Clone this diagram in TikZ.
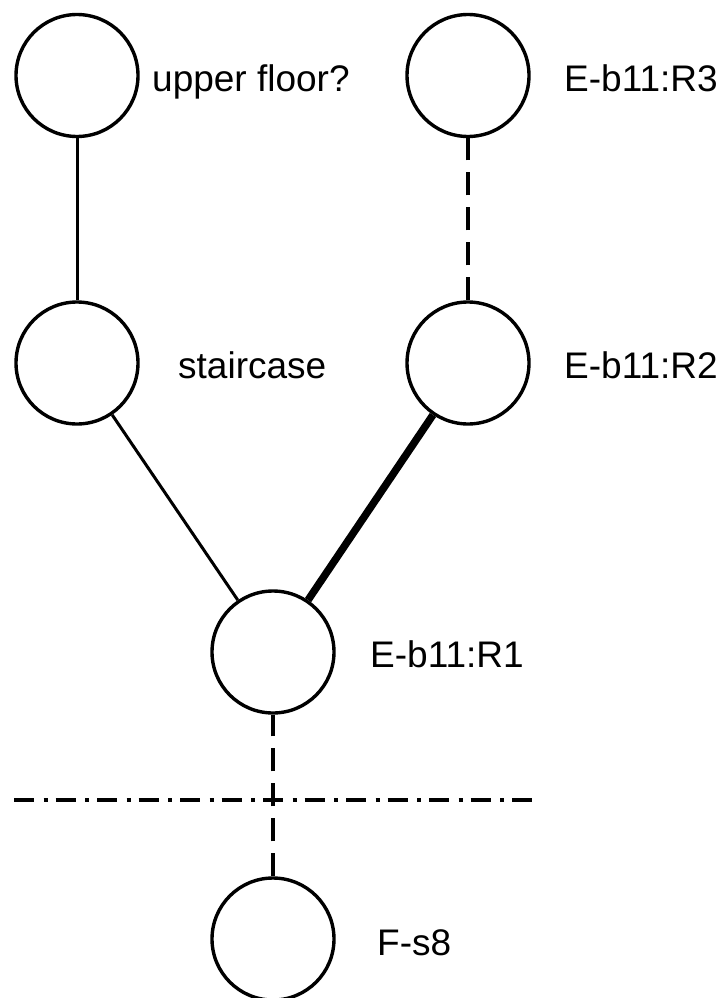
\documentclass[tikz,border=0pt]{standalone}
\usepackage{fontspec}
\setmainfont{Liberation Sans}
\usetikzlibrary{positioning}
\definecolor{rgInk}{HTML}{000000}
\tikzset{
  rg room/.style={circle, draw=rgInk, line width=3.4pt, minimum size=122pt, inner sep=0pt},
  rg label/.style={anchor=base west, inner sep=0pt, font=\fontsize{37}{44}\selectfont, text=rgInk},
  rg door/.style={draw=rgInk, line width=3pt},
  rg wide door/.style={draw=rgInk, line width=7.5pt},
  rg open/.style={
    draw=rgInk,
    line width=3.2pt,
    dash pattern=on 23pt off 12pt
  },
  rg level/.style={
    draw=rgInk,
    line width=3.8pt,
    dash pattern=on 20pt off 9.5pt on 4pt off 8pt
  }
}
\begin{document}
\begin{tikzpicture}[x=1pt,y=-1pt]
  \useasboundingbox (0,0) rectangle (721,998);
  \node[rg room] (upper) at (77,75.5) {};
  \node[rg room] (r3) at (468,75.5) {};
  \node[rg room] (stair) at (77,363) {};
  \node[rg room] (r2) at (468,363) {};
  \node[rg room] (r1) at (273,652) {};
  \node[rg room] (fs8) at (273,939) {};
  \coordinate (levelW) at (14,800);
  \coordinate (levelE) at (534,800);

  \node[rg label] (upperLabel) at (152,91) {upper floor?};
  \node[rg label] (r3Label) at (564,91) {E-b11:R3};
  \node[rg label] (stairLabel) at (178,378) {staircase};
  \node[rg label] (r2Label) at (564,378) {E-b11:R2};
  \node[rg label] (r1Label) at (370,667) {E-b11:R1};
  \node[rg label] (fs8Label) at (377,955) {F-s8};

  \draw[rg door] (stair) -- (upper);
  \draw[rg open] (r2) -- (r3);
  \draw[rg door] (r1) -- (stair);
  \draw[rg wide door] (r1) -- (r2);
  \draw[rg open] (fs8) -- (r1);
  \draw[rg level] (levelW) -- (levelE);
\end{tikzpicture}
\end{document}
